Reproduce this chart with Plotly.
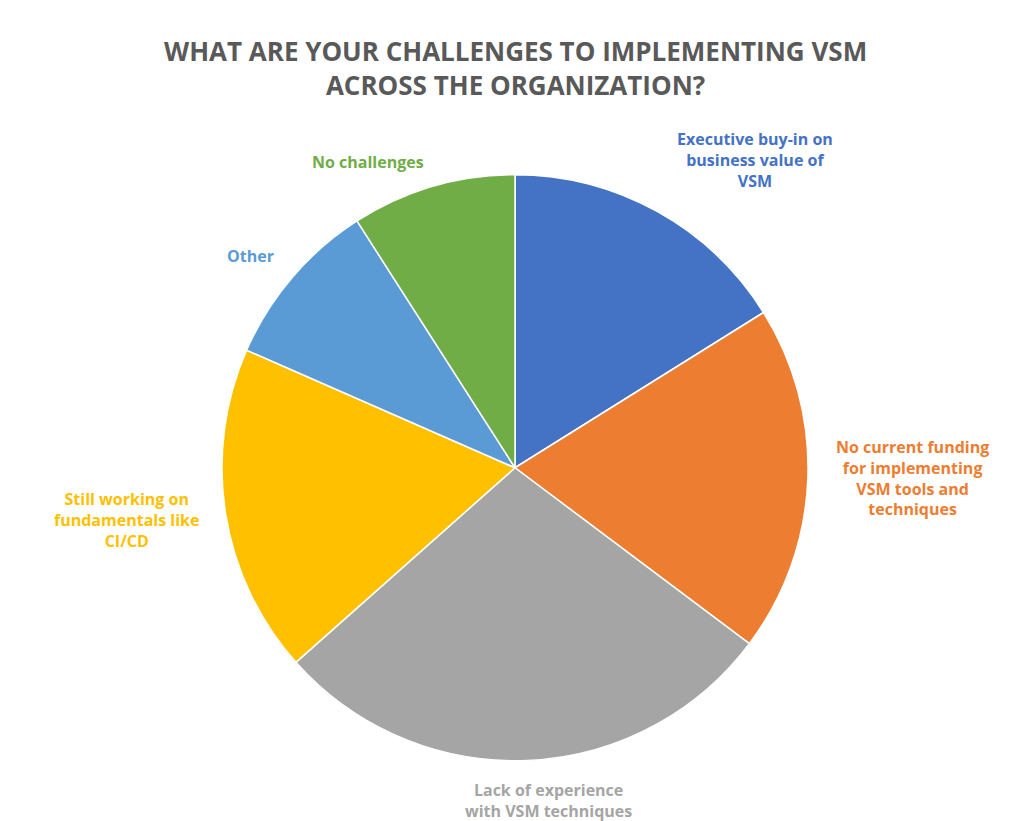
import plotly.graph_objects as go

labels = ["Executive buy-in on business value of VSM",
          "No current funding for implementing VSM tools and techniques",
          "Lack of experience with VSM techniques",
          "Still working on fundamentals like CI/CD",
          "Other",
          "No challenges"]
values = [16, 19, 28, 18, 9.3, 9]
colors = ["#4472C4", "#ED7D31", "#A5A5A5", "#FFC000", "#5B9BD5", "#70AD47"]
label_text = ["Executive buy-in on<br>business value of<br>VSM",
              "No current funding<br>for implementing<br>VSM tools and<br>techniques",
              "Lack of experience<br>with VSM techniques",
              "Still working on<br>fundamentals like<br>CI/CD",
              "Other",
              "No challenges"]
label_pos = [(747, 152), (904, 470), (540, 792), (118, 512), (242, 248), (360, 154)]

W, H = 1014, 821
fig = go.Figure(go.Pie(
    labels=labels, values=values, sort=False, direction="clockwise", rotation=0,
    marker=dict(colors=colors, line=dict(color="white", width=1.5)),
    textinfo="none", hoverinfo="label+percent", showlegend=False,
    domain=dict(x=[0.211, 0.789], y=[0.083, 0.797]),
))
for t, (x, y), c in zip(label_text, label_pos, colors):
    fig.add_annotation(x=x / W, y=1 - y / H, xref="paper", yref="paper", text=f"<b>{t}</b>",
                       showarrow=False, font=dict(size=16, color=c, family="Open Sans"),
                       xanchor="center", yanchor="middle", align="center")
fig.add_annotation(x=0.5, y=1 - 60 / H, xref="paper", yref="paper",
                   text="<b>WHAT ARE YOUR CHALLENGES TO IMPLEMENTING VSM<br>ACROSS THE ORGANIZATION?</b>",
                   showarrow=False, font=dict(size=26, color="#595959", family="Open Sans"),
                   xanchor="center", yanchor="middle", align="center")
fig.update_layout(width=W, height=H, margin=dict(l=0, r=0, t=0, b=0),
                  paper_bgcolor="white", plot_bgcolor="white")
fig.write_html("out.html")
